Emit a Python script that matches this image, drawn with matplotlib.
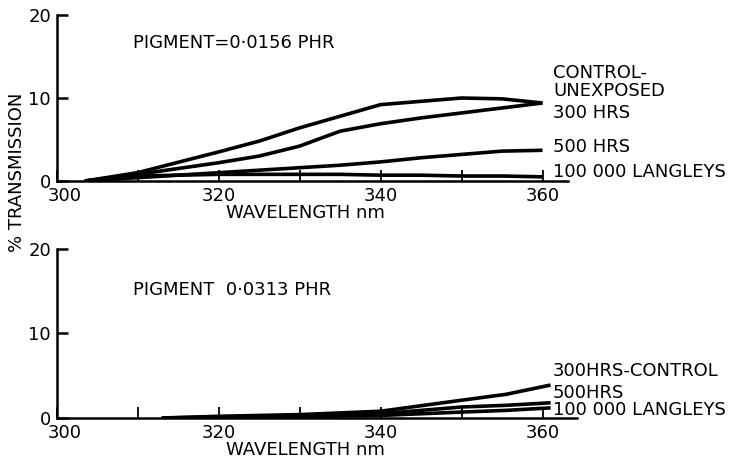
import numpy as np
import matplotlib
matplotlib.use("Agg")
import matplotlib.pyplot as plt
import matplotlib.transforms as mtransforms

plt.rcParams['font.family'] = ['DejaVu Sans']

# Top panel: pigment 0.0156 phr
wl_top = [303.5, 310, 320, 325, 330, 335, 340, 345, 350, 355, 360]
control_top = [0.0, 1.0, 3.5, 4.8, 6.4, 7.8, 9.2, 9.6, 10.0, 9.9, 9.4]
hrs300_top = [0.0, 0.8, 2.2, 3.0, 4.2, 6.0, 6.9, 7.6, 8.2, 8.8, 9.4]
hrs500_top = [0.0, 0.4, 1.0, 1.3, 1.6, 1.9, 2.3, 2.8, 3.2, 3.6, 3.7]
lang_top = [0.0, 0.6, 0.8, 0.8, 0.8, 0.8, 0.7, 0.7, 0.6, 0.6, 0.5]

# Bottom panel: pigment 0.0313 phr
wl_bot = [313, 320, 330, 340, 350, 355.5, 361]
ctrl_bot = [0.0, 0.2, 0.4, 0.8, 2.1, 2.8, 3.9]
hrs500_bot = [0.0, 0.1, 0.3, 0.5, 1.3, 1.5, 1.8]
lang_bot = [0.0, 0.05, 0.15, 0.3, 0.7, 0.9, 1.2]

major_x = [300, 320, 340, 360]
minor_x = [310, 330, 350]
y_ticks = [0, 10, 20]

fig = plt.figure(figsize=(7.35, 4.61), dpi=100)
ax1 = fig.add_axes([0.0769, 0.6074, 0.7075, 0.360])
ax2 = fig.add_axes([0.0769, 0.0933, 0.7075, 0.3666])

fs = 13
lw = 2.6


def style(ax, xend):
    ax.set_xlim(300, 364.2)
    ax.set_ylim(0, 20)
    for s in ['top', 'right']:
        ax.spines[s].set_visible(False)
    ax.spines['left'].set_linewidth(1.8)
    ax.spines['bottom'].set_linewidth(1.8)
    ax.spines['bottom'].set_bounds(300, xend)
    ax.set_xticks(major_x)
    ax.set_xticks(minor_x, minor=True)
    ax.set_yticks(y_ticks)
    ax.tick_params(axis='x', which='both', direction='in', length=8, width=1.3,
                   labelsize=fs, pad=4)
    ax.tick_params(axis='y', direction='in', length=8, width=1.8,
                   labelsize=fs, pad=4)
    # shift the "300" label a bit right, as in the original
    lab = ax.get_xticklabels()[0]
    lab.set_transform(lab.get_transform() +
                      mtransforms.ScaledTranslation(8 / 100, 0, fig.dpi_scale_trans))
    ax.text(0.478, -0.193 * 166 / (ax.get_position().height * 461), 'WAVELENGTH nm',
            transform=ax.transAxes, ha='center', va='center', fontsize=fs)


style(ax1, 363.1)
style(ax2, 364.2)

for y in [control_top, hrs300_top, hrs500_top, lang_top]:
    ax1.plot(wl_top, y, color='black', lw=lw, solid_capstyle='butt')
for y in [ctrl_bot, hrs500_bot, lang_bot]:
    ax2.plot(wl_bot, y, color='black', lw=lw, solid_capstyle='butt')

lx = 361.3
ax1.text(lx, 13.0, 'CONTROL-', fontsize=fs, va='center', ha='left', clip_on=False)
ax1.text(lx, 10.8, 'UNEXPOSED', fontsize=fs, va='center', ha='left', clip_on=False)
ax1.text(lx, 8.2, '300 HRS', fontsize=fs, va='center', ha='left', clip_on=False)
ax1.text(lx, 4.1, '500 HRS', fontsize=fs, va='center', ha='left', clip_on=False)
ax1.text(lx, 1.1, '100 000 LANGLEYS', fontsize=fs, va='center', ha='left', clip_on=False)

ax2.text(lx, 5.6, '300HRS-CONTROL', fontsize=fs, va='center', ha='left', clip_on=False)
ax2.text(lx, 2.9, '500HRS', fontsize=fs, va='center', ha='left', clip_on=False)
ax2.text(lx, 0.9, '100 000 LANGLEYS', fontsize=fs, va='center', ha='left', clip_on=False)

ax1.text(309.4, 16.6, 'PIGMENT=0·0156 PHR', fontsize=fs, va='center', ha='left')
ax2.text(309.4, 15.2, 'PIGMENT  0·0313 PHR', fontsize=fs, va='center', ha='left')

fig.text(17 / 735, 1 - 172 / 461, '% TRANSMISSION', rotation=90,
         ha='center', va='center', fontsize=fs)

fig.savefig('out.png', dpi=100)
